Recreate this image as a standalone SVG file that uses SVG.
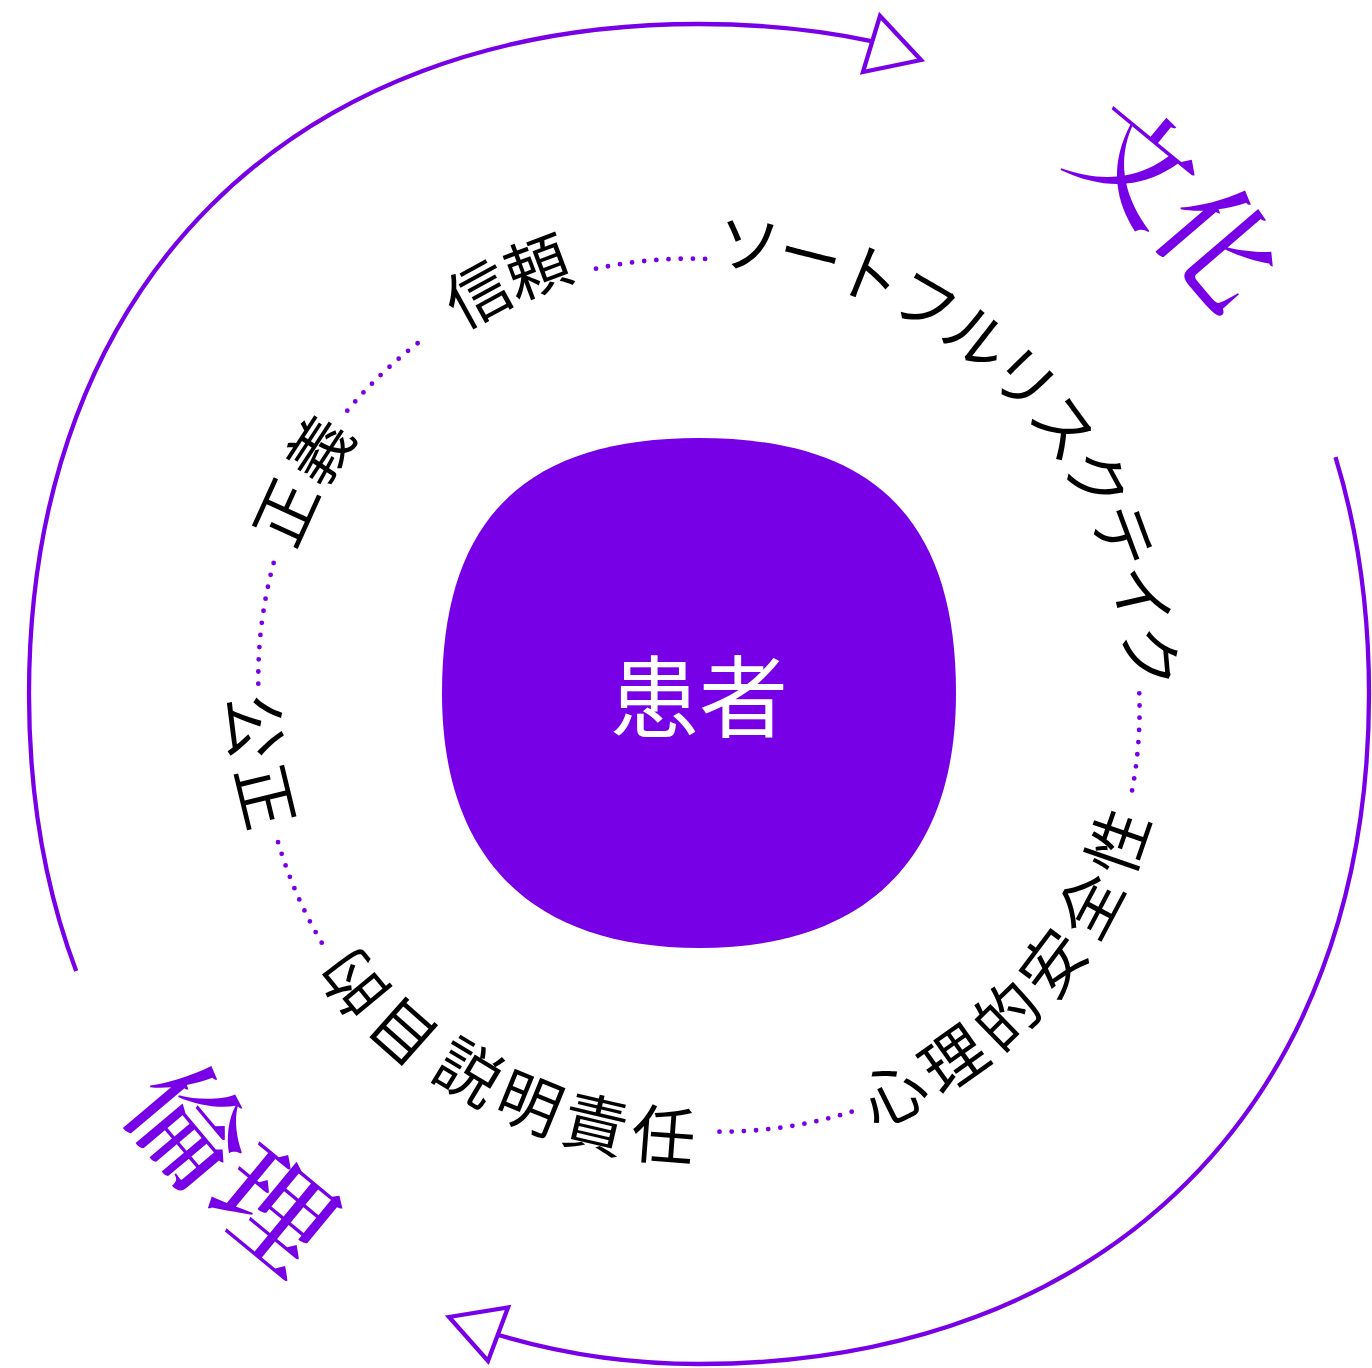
<svg xmlns="http://www.w3.org/2000/svg" width="1372" height="1368" viewBox="0 0 1372 1368">
<style>
.arc{fill:none;stroke:#7700e6;stroke-width:4.3}
.head{fill:#fff;stroke:#7700e6;stroke-width:4.3;stroke-linejoin:miter}
.dots{fill:none;stroke:#7700e6;stroke-width:4.8;stroke-linecap:round;stroke-dasharray:0 12.2}
.lbl{font-family:"Noto Sans CJK JP","Noto Sans CJK SC",sans-serif;font-size:64px;fill:#000;text-anchor:middle;dominant-baseline:central}
.big{font-family:"Noto Serif CJK JP","Noto Serif JP","Noto Sans CJK JP",serif;font-size:117px;font-weight:500;fill:#7700e6;text-anchor:middle;dominant-baseline:central}
.core{font-family:"Noto Sans CJK JP","Noto Sans CJK SC",sans-serif;font-size:89px;fill:#fff;text-anchor:middle}
</style>
<defs>
<path id="p-shinrai" d="M281.5,497 A461.6,461.6 0 0 1 821.1,250"/>
<path id="p-thoughtful" d="M585.5,251.6 A457.6,457.6 0 0 1 1139,818.8"/>
<path id="p-safety" d="M726.9,1134.5 A440.4,440.4 0 0 0 1138,666.6"/>
<path id="p-account" d="M328.8,928.7 A437.4,437.4 0 0 0 864.5,1099.7"/>
<path id="p-purpose" d="M651.2,1145.1 A452.6,452.6 0 0 1 247,726.6"/>
<path id="p-fair" d="M321,468.2 A440.4,440.4 0 0 0 409.6,1027.4"/>
<path id="p-justice" d="M251.4,782.7 A455.6,455.6 0 0 1 534.5,269.9"/>
<path id="p-culture" d="M872.2,21 A696,696 0 0 1 1369,508.4"/>
<path id="p-ethics" d="M63.2,868.6 A659,659 0 0 0 531.9,1332.6"/>
</defs>
<rect width="1372" height="1368" fill="#fff"/>
<g id="connectors">
<path class="arc" d="M76.2,971.1 C45.3,889.1 29,796.2 29,694 C29,285.3 290.3,24 699,24 C760.3,24 818.3,29.9 872.6,41.3"/>
<polygon class="head" points="880,16 921,60 863,72"/>
<path class="arc" d="M1335.5,457.1 C1357.5,528.8 1369,608.2 1369,694 C1369,1102.7 1107.7,1364 699,1364 C627.5,1364 562,1354 498.5,1335"/>
<polygon class="head" points="449,1317 508,1307.5 488,1361"/>
</g>
<g id="ring">
<path class="dots" d="M596,268.7 A437.5,437.5 0 0 1 706,259"/>
<path class="dots" d="M347.3,410.7 A451,451 0 0 1 427.3,336"/>
<path class="dots" d="M258.3,683.7 A442,442 0 0 1 277,551.3"/>
<path class="dots" d="M321.7,942.7 A448,448 0 0 1 278,842"/>
<path class="dots" d="M851.7,1111.7 A440,440 0 0 1 718,1131.7"/>
<path class="dots" d="M1139.3,693.3 A442,442 0 0 1 1132,791"/>
</g>
<g id="node-patient">
<path fill="#7700e6" d="M699,438 C873.8,438 956,519.6 956,693 C956,858.8 866,948 699,948 C532,948 442,858.8 442,693 C442,519.6 524.2,438 699,438 Z"/>
<text class="core" x="699" y="730">患者</text>
</g>
<g id="node-trust"><text class="lbl" letter-spacing="2"><textPath href="#p-shinrai" startOffset="50%">信頼</textPath></text></g>
<g id="node-thoughtful-risk"><text class="lbl" letter-spacing="-1"><textPath href="#p-thoughtful" startOffset="50%">ソートフルリスクテイク</textPath></text></g>
<g id="node-psych-safety"><text class="lbl" letter-spacing="4.6"><textPath href="#p-safety" startOffset="50%">心理的安全性</textPath></text></g>
<g id="node-accountability"><text class="lbl" letter-spacing="4.2"><textPath href="#p-account" startOffset="50%">説明責任</textPath></text></g>
<g id="node-purpose"><text class="lbl" letter-spacing="5.5"><textPath href="#p-purpose" startOffset="50%">目的</textPath></text></g>
<g id="node-fairness"><text class="lbl" letter-spacing="5.9"><textPath href="#p-fair" startOffset="50%">公正</textPath></text></g>
<g id="node-justice"><text class="lbl" letter-spacing="7.6"><textPath href="#p-justice" startOffset="50%">正義</textPath></text></g>
<g id="node-culture"><text class="big" letter-spacing="3"><textPath href="#p-culture" startOffset="50%">文化</textPath></text></g>
<g id="node-ethics"><text class="big" letter-spacing="1"><textPath href="#p-ethics" startOffset="50%">倫理</textPath></text></g>
</svg>
